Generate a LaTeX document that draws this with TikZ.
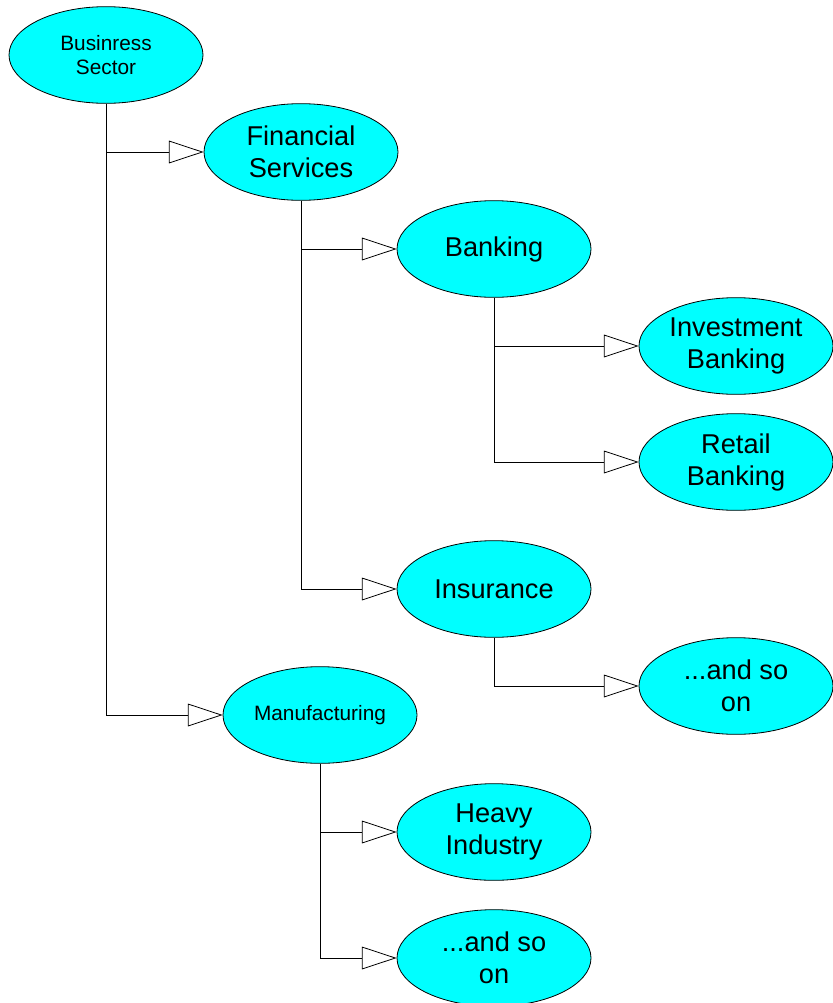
\documentclass[tikz,border=0pt]{standalone}
\usepackage{fontspec}
\setmainfont{Liberation Sans}
\usetikzlibrary{arrows.meta, shapes.geometric}
\definecolor{nodecyan}{RGB}{0,255,255}

\begin{document}
\begin{tikzpicture}[x=0.75pt, y=-0.75pt,
  topic/.style={ellipse, draw=black, fill=nodecyan, line width=0.6pt, minimum width=145.5pt, minimum height=72.5pt, inner sep=0pt, align=center, font=\fontsize{20.4}{24}\selectfont},
  smalltopic/.style={topic, font=\fontsize{15.6}{18.5}\selectfont},
  link/.style={line width=0.6pt, -{Triangle[length=26pt, width=17pt, fill=white]}}]
  \useasboundingbox (0,0) rectangle (832,1003);

  \node[smalltopic] (bs) at (106,55) {Businress\\Sector};
  \node[topic] (fs) at (301,152) {Financial\\Services};
  \node[topic] (bk) at (494,249) {Banking};
  \node[topic] (ib) at (736,346) {Investment\\Banking};
  \node[topic] (rb) at (736,462) {Retail\\Banking};
  \node[topic] (ins) at (494,589) {Insurance};
  \node[topic] (more1) at (736,686) {...and so\\on};
  \node[smalltopic] (mf) at (320,715) {Manufacturing};
  \node[topic] (hi) at (494,832) {Heavy\\Industry};
  \node[topic] (more2) at (494,958) {...and so\\on};

  \draw[link] (bs.south) |- (fs.west);
  \draw[link] (bs.south) |- (mf.west);
  \draw[link] (fs.south) |- (bk.west);
  \draw[link] (fs.south) |- (ins.west);
  \draw[link] (bk.south) |- (ib.west);
  \draw[link] (bk.south) |- (rb.west);
  \draw[link] (ins.south) |- (more1.west);
  \draw[link] (mf.south) |- (hi.west);
  \draw[link] (mf.south) |- (more2.west);
\end{tikzpicture}
\end{document}
